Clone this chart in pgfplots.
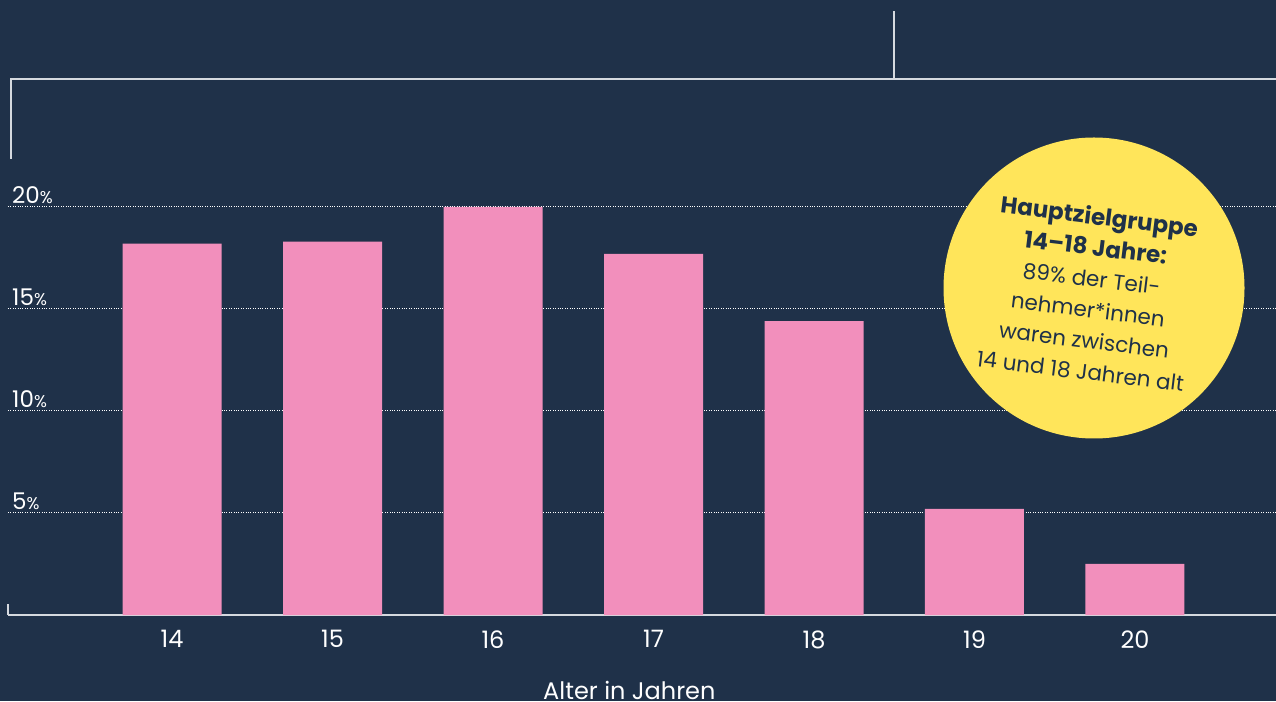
\documentclass[border=0pt]{standalone}
\usepackage{pgfplots}
\pgfplotsset{compat=1.18}
\usepackage{fontspec}
\setmainfont{Poppins}
\definecolor{bg}{HTML}{1F3149}
\definecolor{barpink}{HTML}{F28FBC}
\definecolor{circ}{HTML}{FFE55A}
\definecolor{linecol}{HTML}{D5D9DF}
\newcommand{\pct}{{\fontsize{17}{17}\selectfont\%}}
\begin{document}
\begin{tikzpicture}
\useasboundingbox (0pt,0pt) rectangle (1276pt,701pt);
\fill[bg] (0pt,0pt) rectangle (1276pt,701pt);
\begin{axis}[
  at={(8pt,86pt)}, anchor=south west,
  scale only axis, width=1268pt, height=408pt,
  xmin=-1.022, xmax=6.879, ymin=0, ymax=20,
  clip=false,
  ybar, bar width=99pt,
  axis x line*=bottom, axis y line*=left,
  y axis line style={draw=none},
  x axis line style={linecol, line width=1.5pt},
  major tick length=0pt,
  xtick={0,1,2,3,4,5,6},
  xticklabels={14,15,16,17,18,19,20},
  ytick={5,10,15,20},
  yticklabels={5\pct,10\pct,15\pct,20\pct},
  ymajorgrids,
  major grid style={white, dotted, line width=1pt},
  /pgf/number format/assume math mode=true,
  ticklabel style={white, font=\fontsize{23}{23}\selectfont},
  xticklabel style={font=\fontsize{24}{24}\selectfont, yshift=-12pt},
  yticklabel style={anchor=base west, inner sep=0pt, xshift=4pt, yshift=3pt},
  xlabel={Alter in Jahren},
  xlabel style={white, font=\fontsize{24}{24}\selectfont, at={(axis description cs:0.49,0)}, anchor=center, yshift=-75pt},
]
\addplot[fill=barpink, draw=none] coordinates {(0,18.2)(1,18.3)(2,20.0)(3,17.7)(4,14.4)(5,5.2)(6,2.5)};
\end{axis}
\draw[linecol, line width=1.5pt] (8pt,86pt) -- (8pt,97pt);
\draw[linecol, line width=2pt] (11pt,542pt) -- (11pt,622pt) -- (1276pt,622pt);
\draw[linecol, line width=2pt] (894pt,622pt) -- (894pt,690pt);
\node[circle, fill=circ, minimum size=301pt, inner sep=0pt] at (1094pt,413pt) {};
\node[rotate=-7, align=center, text=bg, inner sep=0pt, font=\fontsize{21.5}{31}\selectfont] at (1090pt,408pt)
 {\bfseries\fontsize{23}{34}\selectfont Hauptzielgruppe\\
  \bfseries\fontsize{23}{32}\selectfont 14–18 Jahre:\\
  \mdseries\fontsize{21.5}{31}\selectfont 89\% der Teil-\\
  nehmer*innen\\
  waren zwischen\\
  14 und 18 Jahren alt};
\end{tikzpicture}
\end{document}
